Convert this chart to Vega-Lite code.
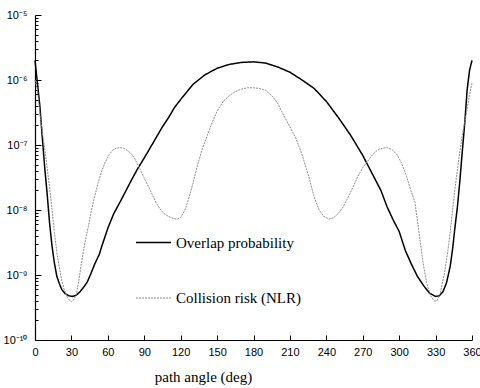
{
  "$schema": "https://vega.github.io/schema/vega-lite/v6.json",
  "width": 437,
  "height": 325,
  "autosize": {"type": "none"},
  "padding": {"left": 35, "top": 15, "right": 8, "bottom": 48},
  "background": "white",
  "config": {"view": {"stroke": null}},
  "data": {"values": [
    {"angle":0,"series":"Overlap probability","value":2.0e-6},
    {"angle":2,"series":"Overlap probability","value":8.91e-7},
    {"angle":4,"series":"Overlap probability","value":3.98e-7},
    {"angle":6,"series":"Overlap probability","value":1.318e-7},
    {"angle":8,"series":"Overlap probability","value":4.47e-8},
    {"angle":10,"series":"Overlap probability","value":1.78e-8},
    {"angle":12,"series":"Overlap probability","value":6.31e-9},
    {"angle":14,"series":"Overlap probability","value":2.82e-9},
    {"angle":16,"series":"Overlap probability","value":1.514e-9},
    {"angle":18,"series":"Overlap probability","value":9.55e-10},
    {"angle":20,"series":"Overlap probability","value":7.41e-10},
    {"angle":22,"series":"Overlap probability","value":6.03e-10},
    {"angle":25,"series":"Overlap probability","value":5.13e-10},
    {"angle":28,"series":"Overlap probability","value":4.79e-10},
    {"angle":31,"series":"Overlap probability","value":4.68e-10},
    {"angle":34,"series":"Overlap probability","value":4.90e-10},
    {"angle":37,"series":"Overlap probability","value":5.50e-10},
    {"angle":40,"series":"Overlap probability","value":6.46e-10},
    {"angle":43,"series":"Overlap probability","value":7.76e-10},
    {"angle":46,"series":"Overlap probability","value":1.047e-9},
    {"angle":49,"series":"Overlap probability","value":1.445e-9},
    {"angle":51,"series":"Overlap probability","value":1.738e-9},
    {"angle":53,"series":"Overlap probability","value":2.089e-9},
    {"angle":55,"series":"Overlap probability","value":2.754e-9},
    {"angle":60,"series":"Overlap probability","value":5.25e-9},
    {"angle":65,"series":"Overlap probability","value":8.91e-9},
    {"angle":70,"series":"Overlap probability","value":1.318e-8},
    {"angle":75,"series":"Overlap probability","value":1.995e-8},
    {"angle":80,"series":"Overlap probability","value":3.02e-8},
    {"angle":85,"series":"Overlap probability","value":4.47e-8},
    {"angle":90,"series":"Overlap probability","value":6.31e-8},
    {"angle":95,"series":"Overlap probability","value":9.12e-8},
    {"angle":100,"series":"Overlap probability","value":1.318e-7},
    {"angle":105,"series":"Overlap probability","value":1.905e-7},
    {"angle":110,"series":"Overlap probability","value":2.63e-7},
    {"angle":115,"series":"Overlap probability","value":3.80e-7},
    {"angle":120,"series":"Overlap probability","value":5.01e-7},
    {"angle":130,"series":"Overlap probability","value":8.51e-7},
    {"angle":140,"series":"Overlap probability","value":1.202e-6},
    {"angle":150,"series":"Overlap probability","value":1.514e-6},
    {"angle":160,"series":"Overlap probability","value":1.738e-6},
    {"angle":170,"series":"Overlap probability","value":1.862e-6},
    {"angle":180,"series":"Overlap probability","value":1.905e-6},
    {"angle":190,"series":"Overlap probability","value":1.820e-6},
    {"angle":200,"series":"Overlap probability","value":1.585e-6},
    {"angle":210,"series":"Overlap probability","value":1.318e-6},
    {"angle":220,"series":"Overlap probability","value":1.0e-6},
    {"angle":230,"series":"Overlap probability","value":7.41e-7},
    {"angle":240,"series":"Overlap probability","value":4.68e-7},
    {"angle":250,"series":"Overlap probability","value":2.63e-7},
    {"angle":260,"series":"Overlap probability","value":1.413e-7},
    {"angle":270,"series":"Overlap probability","value":6.92e-8},
    {"angle":280,"series":"Overlap probability","value":3.02e-8},
    {"angle":285,"series":"Overlap probability","value":1.995e-8},
    {"angle":290,"series":"Overlap probability","value":1.122e-8},
    {"angle":295,"series":"Overlap probability","value":7.08e-9},
    {"angle":300,"series":"Overlap probability","value":4.68e-9},
    {"angle":305,"series":"Overlap probability","value":2.40e-9},
    {"angle":310,"series":"Overlap probability","value":1.479e-9},
    {"angle":315,"series":"Overlap probability","value":9.55e-10},
    {"angle":320,"series":"Overlap probability","value":6.92e-10},
    {"angle":325,"series":"Overlap probability","value":5.25e-10},
    {"angle":330,"series":"Overlap probability","value":4.68e-10},
    {"angle":333,"series":"Overlap probability","value":4.79e-10},
    {"angle":336,"series":"Overlap probability","value":5.50e-10},
    {"angle":339,"series":"Overlap probability","value":7.59e-10},
    {"angle":342,"series":"Overlap probability","value":1.349e-9},
    {"angle":344,"series":"Overlap probability","value":2.51e-9},
    {"angle":346,"series":"Overlap probability","value":5.50e-9},
    {"angle":348,"series":"Overlap probability","value":1.122e-8},
    {"angle":350,"series":"Overlap probability","value":2.82e-8},
    {"angle":352,"series":"Overlap probability","value":7.94e-8},
    {"angle":354,"series":"Overlap probability","value":2.14e-7},
    {"angle":356,"series":"Overlap probability","value":7.08e-7},
    {"angle":358,"series":"Overlap probability","value":1.413e-6},
    {"angle":360,"series":"Overlap probability","value":2.0e-6},
    {"angle":0,"series":"Collision risk (NLR)","value":1.0e-6},
    {"angle":2,"series":"Collision risk (NLR)","value":7.08e-7},
    {"angle":4,"series":"Collision risk (NLR)","value":3.16e-7},
    {"angle":6,"series":"Collision risk (NLR)","value":1.585e-7},
    {"angle":8,"series":"Collision risk (NLR)","value":8.91e-8},
    {"angle":10,"series":"Collision risk (NLR)","value":4.47e-8},
    {"angle":12,"series":"Collision risk (NLR)","value":2.24e-8},
    {"angle":14,"series":"Collision risk (NLR)","value":1.047e-8},
    {"angle":16,"series":"Collision risk (NLR)","value":4.47e-9},
    {"angle":18,"series":"Collision risk (NLR)","value":2.24e-9},
    {"angle":20,"series":"Collision risk (NLR)","value":1.318e-9},
    {"angle":22,"series":"Collision risk (NLR)","value":8.32e-10},
    {"angle":24,"series":"Collision risk (NLR)","value":6.03e-10},
    {"angle":26,"series":"Collision risk (NLR)","value":4.79e-10},
    {"angle":28,"series":"Collision risk (NLR)","value":4.17e-10},
    {"angle":30,"series":"Collision risk (NLR)","value":3.89e-10},
    {"angle":32,"series":"Collision risk (NLR)","value":4.17e-10},
    {"angle":34,"series":"Collision risk (NLR)","value":5.01e-10},
    {"angle":36,"series":"Collision risk (NLR)","value":7.94e-10},
    {"angle":38,"series":"Collision risk (NLR)","value":1.413e-9},
    {"angle":40,"series":"Collision risk (NLR)","value":2.40e-9},
    {"angle":42,"series":"Collision risk (NLR)","value":3.80e-9},
    {"angle":44,"series":"Collision risk (NLR)","value":5.62e-9},
    {"angle":46,"series":"Collision risk (NLR)","value":8.91e-9},
    {"angle":48,"series":"Collision risk (NLR)","value":1.318e-8},
    {"angle":50,"series":"Collision risk (NLR)","value":1.862e-8},
    {"angle":52,"series":"Collision risk (NLR)","value":2.63e-8},
    {"angle":55,"series":"Collision risk (NLR)","value":3.98e-8},
    {"angle":58,"series":"Collision risk (NLR)","value":5.50e-8},
    {"angle":61,"series":"Collision risk (NLR)","value":7.08e-8},
    {"angle":64,"series":"Collision risk (NLR)","value":8.32e-8},
    {"angle":67,"series":"Collision risk (NLR)","value":8.91e-8},
    {"angle":70,"series":"Collision risk (NLR)","value":9.12e-8},
    {"angle":73,"series":"Collision risk (NLR)","value":8.91e-8},
    {"angle":76,"series":"Collision risk (NLR)","value":8.32e-8},
    {"angle":79,"series":"Collision risk (NLR)","value":7.41e-8},
    {"angle":82,"series":"Collision risk (NLR)","value":6.31e-8},
    {"angle":85,"series":"Collision risk (NLR)","value":4.79e-8},
    {"angle":88,"series":"Collision risk (NLR)","value":3.72e-8},
    {"angle":91,"series":"Collision risk (NLR)","value":2.82e-8},
    {"angle":94,"series":"Collision risk (NLR)","value":2.19e-8},
    {"angle":97,"series":"Collision risk (NLR)","value":1.66e-8},
    {"angle":100,"series":"Collision risk (NLR)","value":1.259e-8},
    {"angle":103,"series":"Collision risk (NLR)","value":1.047e-8},
    {"angle":106,"series":"Collision risk (NLR)","value":8.91e-9},
    {"angle":110,"series":"Collision risk (NLR)","value":7.94e-9},
    {"angle":114,"series":"Collision risk (NLR)","value":7.41e-9},
    {"angle":117,"series":"Collision risk (NLR)","value":7.24e-9},
    {"angle":120,"series":"Collision risk (NLR)","value":7.59e-9},
    {"angle":124,"series":"Collision risk (NLR)","value":1.047e-8},
    {"angle":127,"series":"Collision risk (NLR)","value":1.585e-8},
    {"angle":130,"series":"Collision risk (NLR)","value":2.51e-8},
    {"angle":134,"series":"Collision risk (NLR)","value":5.01e-8},
    {"angle":138,"series":"Collision risk (NLR)","value":8.91e-8},
    {"angle":142,"series":"Collision risk (NLR)","value":1.413e-7},
    {"angle":146,"series":"Collision risk (NLR)","value":2.24e-7},
    {"angle":150,"series":"Collision risk (NLR)","value":3.31e-7},
    {"angle":155,"series":"Collision risk (NLR)","value":4.68e-7},
    {"angle":160,"series":"Collision risk (NLR)","value":5.75e-7},
    {"angle":165,"series":"Collision risk (NLR)","value":6.61e-7},
    {"angle":170,"series":"Collision risk (NLR)","value":7.24e-7},
    {"angle":175,"series":"Collision risk (NLR)","value":7.59e-7},
    {"angle":180,"series":"Collision risk (NLR)","value":7.59e-7},
    {"angle":185,"series":"Collision risk (NLR)","value":7.41e-7},
    {"angle":190,"series":"Collision risk (NLR)","value":6.92e-7},
    {"angle":195,"series":"Collision risk (NLR)","value":5.75e-7},
    {"angle":200,"series":"Collision risk (NLR)","value":4.37e-7},
    {"angle":205,"series":"Collision risk (NLR)","value":2.82e-7},
    {"angle":210,"series":"Collision risk (NLR)","value":1.905e-7},
    {"angle":215,"series":"Collision risk (NLR)","value":1.259e-7},
    {"angle":220,"series":"Collision risk (NLR)","value":7.08e-8},
    {"angle":225,"series":"Collision risk (NLR)","value":3.55e-8},
    {"angle":230,"series":"Collision risk (NLR)","value":1.585e-8},
    {"angle":234,"series":"Collision risk (NLR)","value":1.0e-8},
    {"angle":238,"series":"Collision risk (NLR)","value":7.94e-9},
    {"angle":242,"series":"Collision risk (NLR)","value":7.24e-9},
    {"angle":246,"series":"Collision risk (NLR)","value":7.59e-9},
    {"angle":250,"series":"Collision risk (NLR)","value":8.91e-9},
    {"angle":254,"series":"Collision risk (NLR)","value":1.122e-8},
    {"angle":258,"series":"Collision risk (NLR)","value":1.585e-8},
    {"angle":262,"series":"Collision risk (NLR)","value":2.24e-8},
    {"angle":266,"series":"Collision risk (NLR)","value":3.31e-8},
    {"angle":270,"series":"Collision risk (NLR)","value":4.47e-8},
    {"angle":274,"series":"Collision risk (NLR)","value":5.62e-8},
    {"angle":278,"series":"Collision risk (NLR)","value":7.08e-8},
    {"angle":282,"series":"Collision risk (NLR)","value":8.32e-8},
    {"angle":286,"series":"Collision risk (NLR)","value":8.91e-8},
    {"angle":290,"series":"Collision risk (NLR)","value":9.12e-8},
    {"angle":294,"series":"Collision risk (NLR)","value":8.51e-8},
    {"angle":298,"series":"Collision risk (NLR)","value":7.24e-8},
    {"angle":302,"series":"Collision risk (NLR)","value":5.25e-8},
    {"angle":306,"series":"Collision risk (NLR)","value":3.31e-8},
    {"angle":310,"series":"Collision risk (NLR)","value":1.905e-8},
    {"angle":313,"series":"Collision risk (NLR)","value":1.318e-8},
    {"angle":316,"series":"Collision risk (NLR)","value":5.01e-9},
    {"angle":320,"series":"Collision risk (NLR)","value":1.413e-9},
    {"angle":323,"series":"Collision risk (NLR)","value":7.08e-10},
    {"angle":326,"series":"Collision risk (NLR)","value":4.79e-10},
    {"angle":329,"series":"Collision risk (NLR)","value":3.98e-10},
    {"angle":331,"series":"Collision risk (NLR)","value":3.98e-10},
    {"angle":334,"series":"Collision risk (NLR)","value":5.37e-10},
    {"angle":337,"series":"Collision risk (NLR)","value":1.0e-9},
    {"angle":340,"series":"Collision risk (NLR)","value":2.24e-9},
    {"angle":342,"series":"Collision risk (NLR)","value":4.47e-9},
    {"angle":344,"series":"Collision risk (NLR)","value":1.0e-8},
    {"angle":346,"series":"Collision risk (NLR)","value":2.14e-8},
    {"angle":348,"series":"Collision risk (NLR)","value":4.17e-8},
    {"angle":350,"series":"Collision risk (NLR)","value":7.94e-8},
    {"angle":352,"series":"Collision risk (NLR)","value":1.413e-7},
    {"angle":354,"series":"Collision risk (NLR)","value":2.24e-7},
    {"angle":356,"series":"Collision risk (NLR)","value":3.55e-7},
    {"angle":358,"series":"Collision risk (NLR)","value":6.03e-7},
    {"angle":360,"series":"Collision risk (NLR)","value":8.91e-7}
  ]},
  "mark": {"type": "line", "interpolate": "linear"},
  "encoding": {
    "x": {
      "field": "angle", "type": "quantitative",
      "scale": {"domain": [0, 360], "nice": false},
      "axis": {
        "values": [0,30,60,90,120,150,180,210,240,270,300,330,360],
        "title": "path angle (deg)",
        "titleFont": "Liberation Serif", "titleFontSize": 15, "titleFontWeight": "normal", "titleColor": "black",
        "titleX": 168, "titleY": 41, "titleAlign": "center", "titleBaseline": "alphabetic", "titleAnchor": null,
        "labelFont": "Liberation Sans", "labelFontSize": 11, "labelColor": "black",
        "labelFlush": false, "labelOverlap": false, "labelPadding": 11,
        "tickSize": -5, "tickColor": "black", "tickWidth": 1,
        "domainColor": "black", "domainWidth": 1.2, "grid": false
      }
    },
    "y": {
      "field": "value", "type": "quantitative",
      "scale": {"type": "log", "domain": [1e-10, 1e-5], "nice": false},
      "axis": {
        "title": null,
        "values": [1e-10,2e-10,3e-10,4e-10,5e-10,6e-10,7e-10,8e-10,9e-10,1e-9,2e-9,3e-9,4e-9,5e-9,6e-9,7e-9,8e-9,9e-9,1e-8,2e-8,3e-8,4e-8,5e-8,6e-8,7e-8,8e-8,9e-8,1e-7,2e-7,3e-7,4e-7,5e-7,6e-7,7e-7,8e-7,9e-7,1e-6,2e-6,3e-6,4e-6,5e-6,6e-6,7e-6,8e-6,9e-6,1e-5],
        "labelExpr": "abs(log(datum.value)/LN10 - round(log(datum.value)/LN10)) < 0.001 ? '10' + ['⁻¹⁰','⁻⁹','⁻⁸','⁻⁷','⁻⁶','⁻⁵'][round(log(datum.value)/LN10) + 10] : ''",
        "labelFont": "Liberation Sans", "labelFontSize": 11, "labelColor": "black",
        "labelFlush": false, "labelOverlap": false, "labelPadding": 14,
        "tickSize": {"condition": {"test": "abs(log(datum.value)/LN10 - round(log(datum.value)/LN10)) < 0.001", "value": -6}, "value": -3},
        "tickColor": "black", "tickWidth": 1,
        "domainColor": "black", "domainWidth": 1.2, "grid": false
      }
    },
    "color": {
      "field": "series", "type": "nominal",
      "scale": {"domain": ["Overlap probability", "Collision risk (NLR)"], "range": ["#000000", "#8c8c8c"]},
      "legend": {
        "title": null, "orient": "none", "legendX": 100, "legendY": 209,
        "symbolType": "stroke", "symbolSize": 1225, "symbolStrokeWidth": 1.5,
        "labelFont": "Liberation Serif", "labelFontSize": 15, "labelColor": "black",
        "labelOffset": 4, "rowPadding": 29, "padding": 0, "labelLimit": 300
      }
    },
    "strokeDash": {
      "field": "series", "type": "nominal",
      "scale": {"domain": ["Overlap probability", "Collision risk (NLR)"], "range": [[1, 0], [2, 1]]}
    },
    "strokeWidth": {
      "field": "series", "type": "nominal",
      "scale": {"domain": ["Overlap probability", "Collision risk (NLR)"], "range": [1.5, 1]}
    }
  }
}
